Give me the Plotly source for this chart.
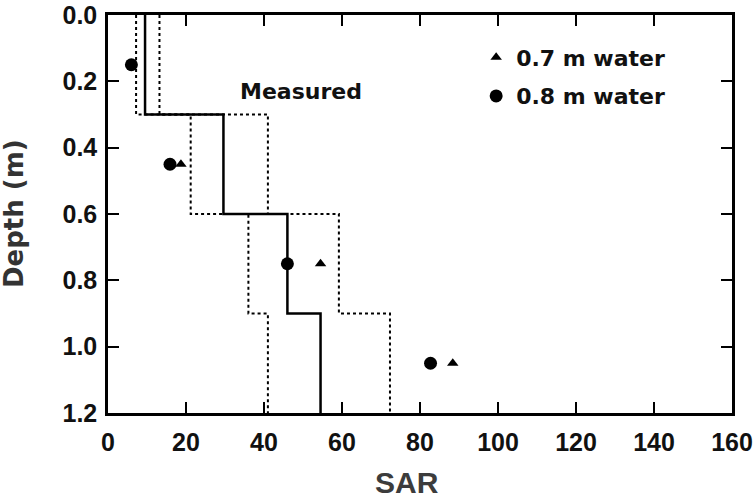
import plotly.graph_objects as go

# Measured SAR profiles (step lines): layer boundaries in depth (m)
layer_top = [0.0, 0.3, 0.6, 0.9]
layer_bot = [0.3, 0.6, 0.9, 1.2]
sar_mean = [9.5, 29.6, 46.0, 54.5]
sar_low = [7.2, 21.2, 36.0, 41.0]
sar_high = [13.2, 41.0, 59.2, 72.3]

# Simulated points
depth_07 = [0.45, 0.75, 1.05]
sar_07 = [18.7, 54.5, 88.4]
depth_08 = [0.15, 0.45, 0.75, 1.05]
sar_08 = [6.0, 15.9, 46.0, 82.7]

x_ticks = [0, 20, 40, 60, 80, 100, 120, 140, 160]
y_ticks = [0.0, 0.2, 0.4, 0.6, 0.8, 1.0, 1.2]

measured_label_pos = (33.3, 0.23)


def steps(vals):
    xs, ys = [], []
    for v, t, b in zip(vals, layer_top, layer_bot):
        xs += [v, v]
        ys += [t, b]
    return xs, ys


fig = go.Figure()
for vals, dash, w in [(sar_low, "3px,3px", 2), (sar_high, "3px,3px", 2), (sar_mean, "solid", 2.5)]:
    xs, ys = steps(vals)
    fig.add_trace(go.Scatter(x=xs, y=ys, mode="lines",
                             line=dict(color="black", width=w, dash=dash),
                             showlegend=False, hoverinfo="skip"))

fig.add_trace(go.Scatter(x=sar_07, y=depth_07, mode="markers", name="<b>0.7 m water</b>",
                         legendgroup="a",
                         marker=dict(symbol="triangle-up", size=10, color="black")))
fig.add_trace(go.Scatter(x=sar_08, y=depth_08, mode="markers", name="<b>0.8 m water</b>",
                         legendgroup="b",
                         marker=dict(symbol="circle", size=13, color="black")))

arial = "Liberation Sans, Arial, sans-serif"
dejavu = "DejaVu Sans, sans-serif"

axis_common = dict(ticks="inside", ticklen=11, tickwidth=2, tickcolor="black",
                   showline=True, linewidth=2.5, linecolor="black", mirror="allticks",
                   showgrid=False, zeroline=False, automargin=False,
                   ticklabeloverflow="allow",
                   tickfont=dict(size=25, family=arial, color="#111", weight="bold"))

fig.update_layout(
    width=755, height=498,
    margin=dict(l=108, r=23, t=15, b=85),
    paper_bgcolor="white", plot_bgcolor="white",
    font=dict(family=arial, color="#111"),
    showlegend=True,
    legend=dict(x=0.59, y=0.946, xanchor="left", yanchor="top",
                bgcolor="rgba(0,0,0,0)", font=dict(size=22, family=dejavu, color="#111"),
                itemsizing="trace", traceorder="grouped", tracegroupgap=7),
    xaxis=dict(range=[0, 160], tickvals=x_ticks, ticklabelstandoff=5, **axis_common),
    yaxis=dict(range=[1.2, 0], tickvals=y_ticks, tickformat=".1f", ticklabelstandoff=3,
               **axis_common),
    annotations=[
        dict(text="<b>Measured</b>", x=measured_label_pos[0], y=measured_label_pos[1],
             xref="x", yref="y", xanchor="left", yanchor="middle", showarrow=False,
             font=dict(size=22, family=dejavu, color="#111")),
        dict(text="<b>Depth (m)</b>", x=0, y=0.5, xref="paper", yref="paper",
             xshift=-94, textangle=-90, xanchor="center", yanchor="middle",
             showarrow=False, font=dict(size=26, family=dejavu, color="#333")),
        dict(text="<b>SAR</b>", x=(407 - 108) / 624, y=0, xref="paper", yref="paper",
             yshift=-69, xanchor="center", yanchor="middle", showarrow=False,
             font=dict(size=30, family=arial, color="#3c3c3c")),
    ],
)

fig.write_html("out.html", config={"displayModeBar": False},
               post_script="document.body.style.margin='0';")
